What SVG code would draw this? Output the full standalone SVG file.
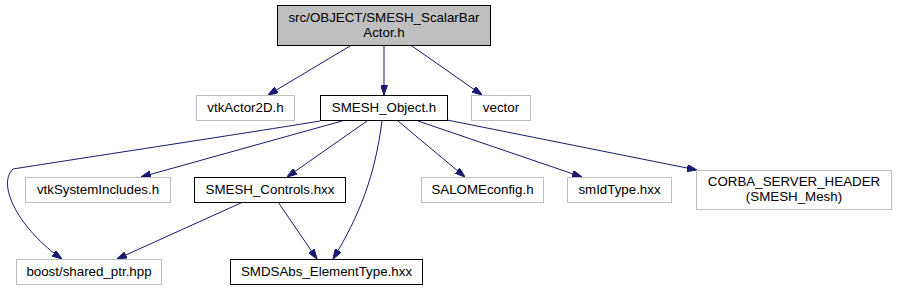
<svg xmlns="http://www.w3.org/2000/svg" width="898" height="291" viewBox="0 0 898 291">
<style>
text{font-family:"Liberation Sans",Arial,Helvetica,sans-serif;font-size:13.33px;fill:#000;text-anchor:middle}
.ext{fill:#fff;stroke:#bfbfbf;stroke-width:1}
.int{fill:#fff;stroke:#000;stroke-width:1}
.main{fill:#bfbfbf;stroke:#000;stroke-width:1}
.e{fill:none;stroke:#191970;stroke-width:1;marker-end:url(#arr)}
</style>
<defs>
<marker id="arr" viewBox="0 0 10 7" refX="10" refY="3.5" markerWidth="10" markerHeight="7" markerUnits="userSpaceOnUse" orient="auto">
<path d="M0,0 L10,3.5 L0,7 z" fill="#191970" stroke="#191970" stroke-width="1"/>
</marker>
</defs>
<rect width="898" height="291" fill="#fff"/>
<g id="edges">
<path class="e" d="M350,46 L268,95"/>
<path class="e" d="M384,45 L384,95"/>
<path class="e" d="M412,46 L482,95"/>
<path class="e" d="M320,121 C260,131 50,163 13,169 C-4,185 20,230 62,259"/>
<path class="e" d="M342,121 L141,177"/>
<path class="e" d="M367,121 L287,177"/>
<path class="e" d="M382,121 C375,175 360,215 333,259"/>
<path class="e" d="M398,121 L465,177"/>
<path class="e" d="M418,121 L582,177"/>
<path class="e" d="M447,120 L697,170"/>
<path class="e" d="M243,202 L117,259"/>
<path class="e" d="M278,202 L317,259"/>
</g>
<g id="node_main">
<rect class="main" x="277.5" y="5.5" width="213" height="40"/>
<text x="384" y="22">src/OBJECT/SMESH_ScalarBar</text>
<text x="384" y="37">Actor.h</text>
</g>
<g id="node_vtkActor2D">
<rect class="ext" x="196.5" y="95.5" width="98" height="25"/>
<text x="245.5" y="112">vtkActor2D.h</text>
</g>
<g id="node_SMESH_Object">
<rect class="int" x="320.5" y="95.5" width="127" height="25"/>
<text x="384" y="112">SMESH_Object.h</text>
</g>
<g id="node_vector">
<rect class="ext" x="471.5" y="95.5" width="59" height="25"/>
<text x="501" y="112">vector</text>
</g>
<g id="node_vtkSystemIncludes">
<rect class="ext" x="25.5" y="177.5" width="145" height="25"/>
<text x="98" y="194">vtkSystemIncludes.h</text>
</g>
<g id="node_SMESH_Controls">
<rect class="int" x="194.5" y="177.5" width="151" height="25"/>
<text x="270" y="194">SMESH_Controls.hxx</text>
</g>
<g id="node_SALOMEconfig">
<rect class="ext" x="421.5" y="177.5" width="122" height="25"/>
<text x="482.5" y="194">SALOMEconfig.h</text>
</g>
<g id="node_smIdType">
<rect class="ext" x="567.5" y="177.5" width="104" height="25"/>
<text x="619.5" y="194">smIdType.hxx</text>
</g>
<g id="node_CORBA">
<rect class="ext" x="696.5" y="170.5" width="195" height="39"/>
<text x="794" y="186">CORBA_SERVER_HEADER</text>
<text x="794" y="201">(SMESH_Mesh)</text>
</g>
<g id="node_boost">
<rect class="ext" x="16.5" y="259.5" width="145" height="25"/>
<text x="89" y="276">boost/shared_ptr.hpp</text>
</g>
<g id="node_SMDSAbs">
<rect class="int" x="230.5" y="259.5" width="192" height="25"/>
<text x="326.5" y="276">SMDSAbs_ElementType.hxx</text>
</g>
</svg>
